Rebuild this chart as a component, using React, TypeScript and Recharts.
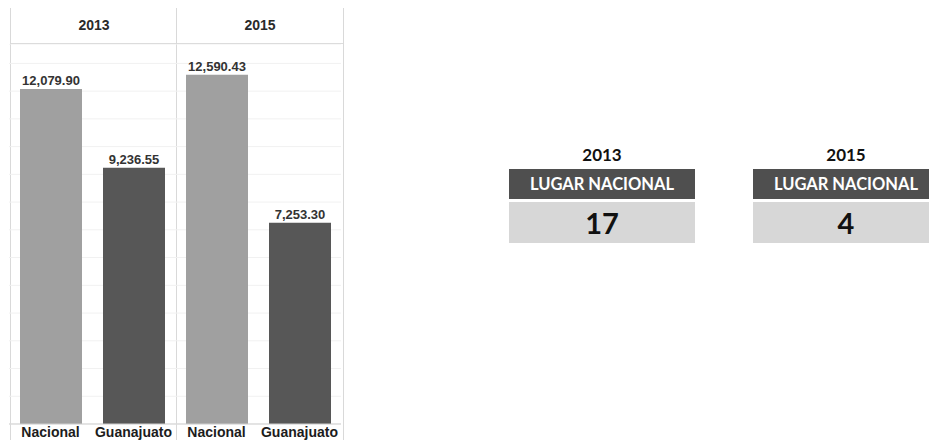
import React from 'react';
import { BarChart, Bar, XAxis, YAxis, CartesianGrid, LabelList, Cell } from 'recharts';

const categories = ['Nacional', 'Guanajuato'];
const years = ['2013', '2015'];
const values2013 = [12079.9, 9236.55];
const values2015 = [12590.43, 7253.3];
const ranks = ['17', '4'];
const rankTitle = 'LUGAR NACIONAL';
const barColors = ['#a0a0a0', '#575757'];
const yTicks = [0, 1000, 2000, 3000, 4000, 5000, 6000, 7000, 8000, 9000, 10000, 11000, 12000, 13000];
const yMax = 13700;

const fmt = (v: any) =>
  Number(v).toLocaleString('en-US', { minimumFractionDigits: 2, maximumFractionDigits: 2 });

const chartFont = '"Liberation Sans", Arial, sans-serif';
const boxFont = 'Lato, "Open Sans", sans-serif';

function Panel({ year, values, left, rightBorder }: { year: string; values: number[]; left: number; rightBorder: boolean }) {
  const data = categories.map((c, i) => ({ name: c, value: values[i] }));
  return (
    <div
      style={{
        position: 'absolute',
        left,
        top: 8,
        width: 166,
        height: 432,
        borderLeft: '1px solid #d9d9d9',
        borderRight: rightBorder ? '1px solid #d9d9d9' : 'none',
        boxSizing: 'content-box',
        marginLeft: -1,
      }}
    >
      <div
        style={{
          height: 35,
          lineHeight: '35px',
          borderBottom: '1px solid #dcdcdc',
          textAlign: 'center',
          fontFamily: chartFont,
          fontWeight: 'bold',
          fontSize: 14,
          color: '#2a2a2a',
        }}
      >
        {year}
      </div>
      <div style={{ marginLeft: -2 }}>
        <BarChart width={166} height={396} data={data} margin={{ top: 0, right: 0, bottom: 0, left: 0 }}>
          <CartesianGrid vertical={false} stroke="#f1f1f1" />
          <YAxis hide domain={[0, yMax]} ticks={yTicks} width={0} />
          <XAxis
            dataKey="name"
            interval={0}
            height={16}
            tickLine={false}
            tickSize={0}
            tickMargin={3}
            axisLine={{ stroke: '#cfcfcf' }}
            tick={{ fill: '#1c1c1c', fontSize: 14, fontWeight: 'bold', fontFamily: chartFont }}
          />
          <Bar dataKey="value" barSize={62} isAnimationActive={false}>
            {data.map((d, i) => (
              <Cell key={d.name} fill={barColors[i]} />
            ))}
            <LabelList
              dataKey="value"
              position="top"
              offset={4}
              formatter={fmt}
              fill="#333333"
              fontSize={13}
              fontWeight="bold"
              fontFamily={chartFont}
            />
          </Bar>
        </BarChart>
      </div>
    </div>
  );
}

function RankBox({ year, rank, left }: { year: string; rank: string; left: number }) {
  return (
    <div style={{ position: 'absolute', left, top: 141, width: 186, fontFamily: boxFont }}>
      <div style={{ height: 28, lineHeight: '28px', textAlign: 'center', fontWeight: 'bold', fontSize: 17, color: '#111' }}>
        {year}
      </div>
      <div
        style={{
          height: 30,
          lineHeight: '30px',
          background: '#4f4f4f',
          color: '#fff',
          textAlign: 'center',
          fontSize: 16.5,
          fontWeight: 'bold',
        }}
      >
        {rankTitle}
      </div>
      <div
        style={{
          marginTop: 3,
          height: 41,
          lineHeight: '41px',
          background: '#d7d7d7',
          color: '#111',
          textAlign: 'center',
          fontSize: 29,
          fontWeight: 'bold',
        }}
      >
        {rank}
      </div>
    </div>
  );
}

export default function App() {
  return (
    <div style={{ position: 'absolute', left: 0, top: 0, width: 929, height: 440, overflow: 'hidden', background: '#fff' }}>
      <Panel year={years[0]} values={values2013} left={11} rightBorder={false} />
      <Panel year={years[1]} values={values2015} left={177} rightBorder={true} />
      <RankBox year={years[0]} rank={ranks[0]} left={509} />
      <RankBox year={years[1]} rank={ranks[1]} left={753} />
    </div>
  );
}
